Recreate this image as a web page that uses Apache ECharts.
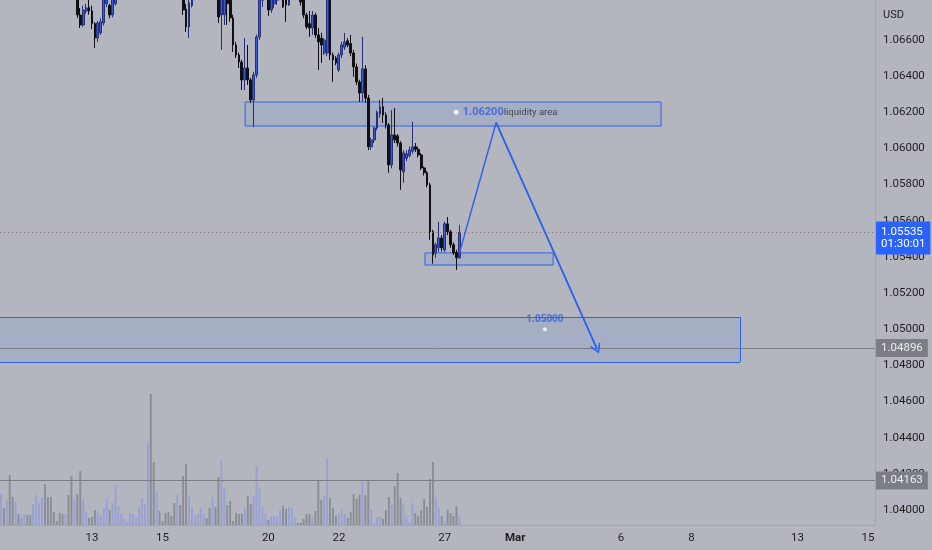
<!DOCTYPE html>
<html><head><meta charset="utf-8">
<script src="https://cdn.jsdelivr.net/npm/echarts@6/dist/echarts.min.js"></script>
<style>html,body{margin:0;padding:0;background:#b3b6be;}#c{width:932px;height:550px;}</style>
</head><body><div id="c"></div>
<script>
// 2-hour EURUSD bars; bar number 0 = Wed 8 Feb 2023 00:00, 12 bars per trading day
const firstBar = 5;
const openP = [
1.0712,1.0718,1.0710,1.0722,1.0716,1.0714,1.0720,1.0712,1.0718,1.0722,
1.0716,1.0713,1.0719,1.0730,1.0738,1.0748,1.0742,1.0734,1.0730,1.0728,
1.0722,1.0716,1.0712,1.0718,1.0706,1.0698,
1.0700,1.06738,1.06683,1.06760,1.06780,1.06760,1.06690,1.06611,1.06640,1.06694,
1.06800,1.06790,1.06738,1.06800,1.06850,
1.0690,1.0695,1.0700,1.0704,1.0712,1.0718,1.0722,1.0730,1.0736,1.0742,
1.0800,1.0760,1.0742,1.0748,1.0738,1.0734,1.0730,1.0722,1.0716,1.0702,1.0708,
1.0698,1.06770,1.06672,1.06790,1.06840,1.0687,1.0695,1.0700,1.0706,1.0702,
1.0698,1.0704,1.0695,1.06738,1.06740,1.06860,1.06820,1.06722,1.06572,1.06517,
1.06478,1.06379,1.06445,1.06379,1.06268,1.06406,1.06617,1.06820,
1.06840,1.06860,1.06766,1.06800,1.06820,1.06840,1.06870,1.06830,1.06794,1.06830,
1.06870,1.06890,1.06870,1.06830,1.06738,1.06690,1.06666,1.06738,1.06628,1.06610,
1.06528,1.06528,1.06830,1.06517,1.06500,1.06434,1.06517,1.06560,1.06595,1.06580,
1.06528,1.06451,1.06368,1.06307,1.06440,1.06279,1.06009,1.06047,1.06113,1.06190,
1.06230,1.06185,1.06130,1.05909,1.06075,1.06070,1.06030,1.05870,1.05945,1.05960,
1.05985,1.06009,1.05995,1.05964,1.05892,1.05865,1.05798,1.05539,1.05422,1.05450,
1.05505,1.05438,1.05583,1.05539,1.05467,1.05425,1.05395
];
const closeP = [
1.0718,1.0710,1.0722,1.0716,1.0714,1.0720,1.0712,1.0718,1.0722,1.0716,
1.0713,1.0719,1.0730,1.0738,1.0748,1.0742,1.0734,1.0730,1.0728,1.0722,
1.0716,1.0712,1.0718,1.0706,1.0698,1.0700,
1.06738,1.06683,1.06766,1.06777,1.06760,1.06690,1.06611,1.06694,1.06700,1.06830,
1.06840,1.06738,1.06830,1.06850,1.06900,
1.0695,1.0700,1.0704,1.0712,1.0718,1.0722,1.0730,1.0736,1.0742,1.0800,
1.0760,1.0742,1.0748,1.0738,1.0734,1.0730,1.0722,1.0716,1.0702,1.0708,1.0698,
1.06766,1.06672,1.06805,1.06850,1.06870,1.0695,1.0700,1.0706,1.0702,1.0698,
1.0704,1.0695,1.06727,1.06830,1.06840,1.06800,1.06722,1.06572,1.06517,1.06478,
1.06379,1.06445,1.06379,1.06268,1.06406,1.06617,1.06830,1.06860,
1.06880,1.06766,1.06830,1.06840,1.06840,1.06860,1.06783,1.06794,1.06840,1.06870,
1.06890,1.06870,1.06810,1.06738,1.06672,1.06666,1.06738,1.06628,1.06589,1.06572,
1.06600,1.06830,1.06517,1.06489,1.06473,1.06517,1.06572,1.06589,1.06572,1.06528,
1.06451,1.06368,1.06307,1.06440,1.06279,1.06009,1.06047,1.06113,1.06202,1.06230,
1.06185,1.06130,1.05909,1.06075,1.06047,1.06030,1.05881,1.05975,1.05970,1.05991,
1.06009,1.05995,1.05964,1.05892,1.05865,1.05798,1.05539,1.05411,1.05467,1.05505,
1.05450,1.05583,1.05539,1.05467,1.05422,1.05395,1.05535
];
const lowP = [
1.0706,1.0704,1.0706,1.0712,1.0709,1.0711,1.0708,1.0709,1.0714,1.0713,
1.0708,1.0710,1.0716,1.0726,1.0735,1.0738,1.0730,1.0726,1.0724,1.0718,
1.0711,1.0707,1.0709,1.0702,1.0693,1.0690,
1.06722,1.06666,1.06672,1.06745,1.06740,1.06660,1.06556,1.06590,1.06628,1.06680,
1.06782,1.06720,1.06725,1.06790,1.06830,
1.0686,1.0691,1.0696,1.0701,1.0709,1.0714,1.0719,1.0727,1.0733,1.0738,
1.0722,1.0735,1.0736,1.0733,1.0729,1.0725,1.0718,1.0711,1.0697,1.0698,1.0690,
1.06738,1.06644,1.06611,1.06780,1.06820,1.0685,1.0691,1.0697,1.0698,1.0694,
1.0695,1.0690,1.06694,1.06545,1.06683,1.06683,1.06700,1.06534,1.06500,1.06445,
1.06323,1.06323,1.06351,1.06252,1.06119,1.06390,1.06600,1.06783,
1.06830,1.06733,1.06750,1.06777,1.06794,1.06830,1.06777,1.06700,1.06788,1.06825,
1.06850,1.06840,1.06790,1.06720,1.06660,1.06617,1.06628,1.06611,1.06434,1.06473,
1.06517,1.06510,1.06489,1.06368,1.06460,1.06423,1.06500,1.06545,1.06560,1.06510,
1.06396,1.06350,1.06257,1.06257,1.06252,1.05991,1.05991,1.06030,1.06100,1.06170,
1.06141,1.06110,1.05865,1.05890,1.06030,1.06010,1.05771,1.05810,1.05930,1.05950,
1.05970,1.05980,1.05950,1.05880,1.05850,1.05785,1.05494,1.05362,1.05395,1.05428,
1.05430,1.05428,1.05520,1.05450,1.05410,1.05328,1.05390
];
const highP = [
1.0724,1.0722,1.0727,1.0726,1.0720,1.0724,1.0723,1.0721,1.0726,1.0725,
1.0719,1.0722,1.0734,1.0742,1.0755,1.0752,1.0746,1.0738,1.0733,1.0731,
1.0725,1.0719,1.0721,1.0720,1.0709,1.0704,
1.0703,1.06777,1.06790,1.06800,1.06830,1.06790,1.06700,1.06705,1.06720,1.06860,
1.06870,1.06800,1.06860,1.06880,1.06930,
1.0698,1.0703,1.0707,1.0715,1.0721,1.0725,1.0733,1.0739,1.0746,1.0805,
1.0804,1.0768,1.0752,1.0751,1.0742,1.0737,1.0733,1.0726,1.0719,1.0711,1.0710,
1.0700,1.06800,1.06830,1.06870,1.06900,1.0698,1.0703,1.0709,1.0709,1.0705,
1.0707,1.0706,1.0697,1.06860,1.06870,1.06890,1.06850,1.06740,1.06590,1.06530,
1.06490,1.06611,1.06572,1.06390,1.06423,1.06630,1.06860,1.06890,
1.06910,1.06890,1.06860,1.06870,1.06870,1.06890,1.06890,1.06850,1.06860,1.06900,
1.06920,1.06910,1.06890,1.06850,1.06750,1.06760,1.06760,1.06750,1.06666,1.06640,
1.06610,1.06860,1.06870,1.06530,1.06510,1.06530,1.06590,1.06639,1.06610,1.06628,
1.06545,1.06470,1.06380,1.06617,1.06460,1.06296,1.06060,1.06120,1.06210,1.06268,
1.06279,1.06200,1.06140,1.06213,1.06224,1.06080,1.06040,1.05990,1.05990,1.06010,
1.06147,1.06030,1.06010,1.05975,1.05900,1.05875,1.05810,1.05550,1.05480,1.05594,
1.05520,1.05595,1.05621,1.05550,1.05480,1.05440,1.05577
];
const volumes = [
31,17,25,50,28,23,11,8,11,10,10,21,30,22,27,41,28,28,13,4,12,11,11,30,49,26,
31,54,26,13,7,8,15,12,9,17,27,15,22,40,19,
12,6,3,12,11,7,18,27,21,82,131,63,34,14,4,12,13,9,22,30,20,
49,61,30,18,9,11,17,12,7,17,28,18,48,64,36,20,24,4,12,11,11,17,29,21,29,59,36,18,
12,5,9,9,8,15,19,16,18,17,8,2,2,6,11,11,8,14,44,25,
29,66,27,17,9,11,16,11,7,13,31,26,30,46,30,44,15,3,8,8,
6,15,28,20,39,52,27,20,9,3,22,12,9,15,26,18,46,63,28,17,
9,4,15,12,9,19,9
];
// time axis: bar number of first bar of labelled days
const xTickBars = [36, 60, 96, 120, 156, 180, 216, 240, 276, 300];
const xTickLabels = ['13', '15', '20', '22', '27', 'Mar', '6', '8', '13', '15'];
const yTickValues = [1.040,1.042,1.044,1.046,1.048,1.050,1.052,1.054,1.056,1.058,1.060,1.062,1.064,1.066];
// levels
const lastPrice = 1.05535;
const countdown = '01:30:01';
const level1 = 1.04896;
const level2 = 1.04163;
const liquidityLevel = 1.062;
const targetLevel = 1.05;
// visible bar range
const viewFrom = 4.7, viewTo = 302.4;
// drawn boxes [barFrom, priceTop, barTo, priceBottom]
const liquidityBox = [88.1, 1.06257, 229.6, 1.06124];
const baseBox = [149.3, 1.05422, 192.9, 1.05355];
const targetBox = [viewFrom, 1.05068, 256.5, 1.04819]; // runs on past the left edge
// projected path
const pathBars = [161.0, 173.5, 207.8];
const pathPrices = [1.05421, 1.06143, 1.04891];
const noteBars = [159.9, 190.1];
// the two-line price tag hangs below its line (its first row sits on the price)
const tagDrop = 0.0003;

const BLUE = '#2f62ee';
const candles = openP.map((o, i) => [firstBar + i, o, closeP[i], lowP[i], highP[i]]);
const vols = volumes.map((v, i) => ({
  value: [firstBar + i, v],
  itemStyle: { color: closeP[i] >= openP[i] ? '#98a1d6' : '#8b8d94' }
}));
const box = b => [{ coord: [b[0], b[1]] }, { coord: [b[2], b[3]] }];
const seg = (x1, y1, x2, y2, extra) => [Object.assign({ coord: [x1, y1], symbol: 'none' }), Object.assign({ coord: [x2, y2], symbol: 'none' }, extra || {})];
const chevron = 'path://M5,0 L10,8 L8.7,8.9 L5,2.6 L1.3,8.9 L0,8 Z';
const FONT = 'Roboto, "Noto Sans", sans-serif';

const chart = echarts.init(document.getElementById('c'), null, { renderer: 'canvas' });
chart.setOption({
  backgroundColor: '#b3b6be',
  animation: false,
  textStyle: { fontFamily: FONT },
  title: { text: 'USD', left: 878, top: 5, textStyle: { fontSize: 11, fontWeight: 'normal', color: '#1e1e1e', fontFamily: FONT } },
  grid: [
    { left: 0, right: 57, top: 0, bottom: 25 },
    { left: 0, right: 57, top: 375, bottom: 25 }
  ],
  xAxis: [
    { type: 'value', gridIndex: 0, min: viewFrom, max: viewTo,
      splitLine: { show: false }, axisTick: { show: false },
      axisLine: { show: true, onZero: false, lineStyle: { color: '#a2a5ac', width: 1 } },
      axisLabel: { customValues: xTickBars, margin: 7, fontSize: 11.5, color: '#1e1e1e', fontFamily: FONT,
        formatter: v => { const l = xTickLabels[xTickBars.indexOf(Math.round(v))]; return l === 'Mar' ? '{b|Mar}' : l; },
        rich: { b: { fontWeight: 'bold', fontSize: 11.5, color: '#1e1e1e', fontFamily: FONT } } } },
    { type: 'value', gridIndex: 1, min: viewFrom, max: viewTo, show: false }
  ],
  yAxis: [
    { type: 'value', gridIndex: 0, position: 'right', min: 1.03917, max: 1.06821,
      splitLine: { show: false }, axisTick: { show: false },
      axisLine: { show: true, lineStyle: { color: '#a2a5ac', width: 1 } },
      axisLabel: { customValues: yTickValues, margin: 8, fontSize: 11.5, color: '#1e1e1e', fontFamily: FONT,
        formatter: v => v.toFixed(5) } },
    { type: 'value', gridIndex: 1, min: 0, max: 150, show: false }
  ],
  series: [
    { type: 'bar', xAxisIndex: 1, yAxisIndex: 1, data: vols, barWidth: 1.9, silent: true, z: 1 },
    { type: 'candlestick', xAxisIndex: 0, yAxisIndex: 0, data: candles,
      encode: { x: 0, y: [1, 2, 3, 4] }, barWidth: 2.3, z: 3,
      itemStyle: { color: '#3659d8', color0: '#111114', borderColor: '#24317a', borderColor0: '#111114', borderWidth: 1 },
      markArea: { silent: true, z: 2,
        itemStyle: { color: 'rgba(41,98,255,0.09)', borderColor: BLUE, borderWidth: 1 },
        data: [box(liquidityBox), box(baseBox),
               [{ coord: [targetBox[0], targetBox[1]], itemStyle: { borderWidth: 0 } }, { coord: [targetBox[2], targetBox[3]] }]] },
      markLine: { silent: true, symbol: ['none', 'none'], animation: false, precision: 5,
        data: [
          { yAxis: lastPrice, lineStyle: { type: [1, 3], color: '#8a6f77', width: 1 }, label: { show: false } },
          { yAxis: lastPrice - tagDrop, lineStyle: { color: 'rgba(0,0,0,0)', width: 1 },
            label: { show: true, position: 'end', distance: 1, formatter: lastPrice.toFixed(5) + '\n' + countdown,
              backgroundColor: '#2962ff', color: '#ffffff', fontSize: 11.5, lineHeight: 12, padding: [4, 5, 5, 5],
              borderRadius: 1, fontFamily: FONT } },
          { yAxis: level1, lineStyle: { type: 'solid', color: '#7b7e85', width: 1 },
            label: { show: true, position: 'end', distance: 1, formatter: level1.toFixed(5),
              backgroundColor: '#7b7e85', color: '#eceef2', fontSize: 11.5, padding: [3, 5], fontFamily: FONT } },
          { yAxis: level2, lineStyle: { type: 'solid', color: '#7b7e85', width: 1 },
            label: { show: true, position: 'end', distance: 1, formatter: level2.toFixed(5),
              backgroundColor: '#7b7e85', color: '#eceef2', fontSize: 11.5, padding: [3, 5], fontFamily: FONT } }
        ] } },
    { type: 'line', xAxisIndex: 0, yAxisIndex: 0, z: 5, silent: true,
      data: pathBars.map((b, i) => [b, pathPrices[i]]), symbol: 'none',
      lineStyle: { color: BLUE, width: 1.5 },
      markLine: { silent: true, animation: false, precision: 5, lineStyle: { color: BLUE, width: 1.5, type: 'solid' }, label: { show: false },
        data: [
          seg(pathBars[1], pathPrices[1], pathBars[2], pathPrices[2], { symbol: chevron, symbolSize: [11, 10] }),
          // outline of the target box (open on the left, where it leaves the view)
          seg(targetBox[0], targetBox[1], targetBox[2], targetBox[1], { lineStyle: { width: 1 } }),
          seg(targetBox[0], targetBox[3], targetBox[2], targetBox[3], { lineStyle: { width: 1 } }),
          seg(targetBox[2], targetBox[1], targetBox[2], targetBox[3], { lineStyle: { width: 1 } })
        ] } },
    { type: 'scatter', xAxisIndex: 0, yAxisIndex: 0, z: 6, silent: true, symbolSize: 5,
      itemStyle: { color: '#ffffff' },
      data: [
        { value: [noteBars[0], liquidityLevel],
          label: { show: true, position: 'right', distance: 4,
            formatter: '{a|' + liquidityLevel.toFixed(5) + '}{b|liquidity area}',
            rich: { a: { color: '#2d5be3', fontWeight: 'bold', fontSize: 11, fontFamily: FONT },
                    b: { color: '#2a2a2a', fontSize: 9.5, fontFamily: FONT } } } },
        { value: [noteBars[1], targetLevel], symbolSize: 4,
          label: { show: true, position: 'top', distance: 3, formatter: targetLevel.toFixed(5),
            color: '#2d5be3', fontSize: 10, fontWeight: 'bold', fontFamily: FONT } }
      ] }
  ]
});
</script></body></html>
